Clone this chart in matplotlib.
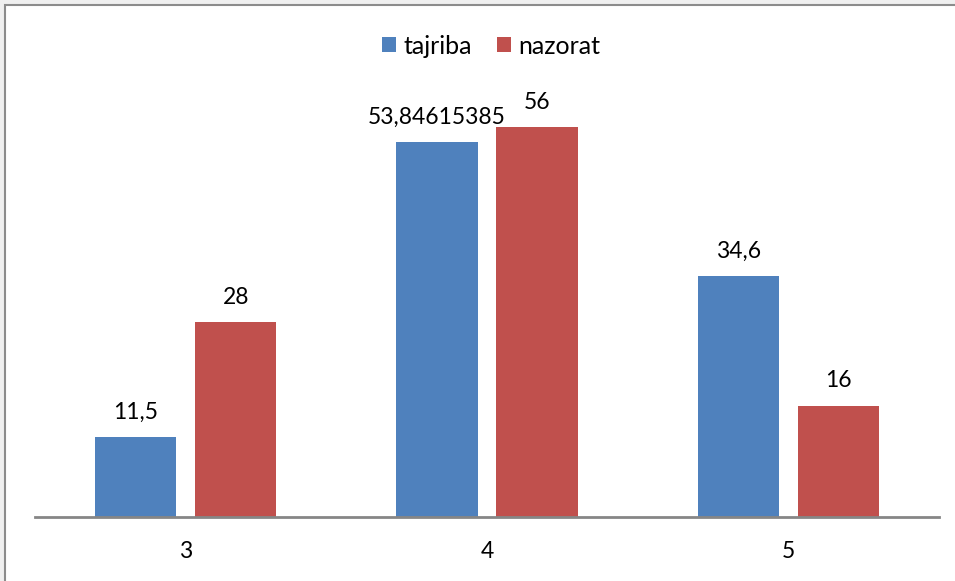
import numpy as np
import matplotlib.pyplot as plt
from matplotlib.patches import Rectangle

categories = ['3', '4', '5']
tajriba = [11.5, 53.84615385, 34.6]
nazorat = [28, 56, 16]
labels = ['tajriba', 'nazorat']
colors = ['#4F81BD', '#C0504D']

plt.rcParams['font.family'] = ['Lato', 'DejaVu Sans']

fig = plt.figure(figsize=(9.55, 5.81), dpi=100)
fig.patch.set_facecolor('#f0f0f0')
# chart area frame (behind the axes)
frame = Rectangle((5/955, -0.1), 1.2, 1.1 - 5/581, transform=fig.transFigure,
                  facecolor='white', edgecolor='#8c8c8c', linewidth=1.5, zorder=-10)
fig.patches.append(frame)

ax = fig.add_axes([35/955, 64/581, 904/955, 417.6/581])
ax.set_facecolor('none')

x = np.arange(len(categories))
w = 0.269
off = 0.166
b1 = ax.bar(x - off, tajriba, w, color=colors[0], label=labels[0])
b2 = ax.bar(x + off, nazorat, w, color=colors[1], label=labels[1])

def fmt(v):
    return str(v).replace('.', ',')

for bars, vals in [(b1, tajriba), (b2, nazorat)]:
    for b, v in zip(bars, vals):
        ax.annotate(fmt(v), (b.get_x() + b.get_width()/2, b.get_height()),
                    xytext=(0, 18), textcoords='offset points',
                    ha='center', va='center', fontsize=16.5, color='black')

ax.set_xlim(-0.5, 2.5)
ax.set_ylim(0, 60)
ax.set_xticks(x)
ax.set_xticklabels(categories, fontsize=16.5)
ax.tick_params(axis='x', length=0, pad=17)
ax.set_yticks([])
for s in ['top', 'right', 'left']:
    ax.spines[s].set_visible(False)
ax.spines['bottom'].set_color('#868686')
ax.spines['bottom'].set_linewidth(2)

fig.legend(loc='center', bbox_to_anchor=(491/955, 1 - 46/581), ncol=2, frameon=False,
           fontsize=18, handlelength=0.55, handleheight=0.55, handletextpad=0.3,
           columnspacing=1.0)

plt.savefig('out.png', dpi=100, facecolor=fig.get_facecolor())
